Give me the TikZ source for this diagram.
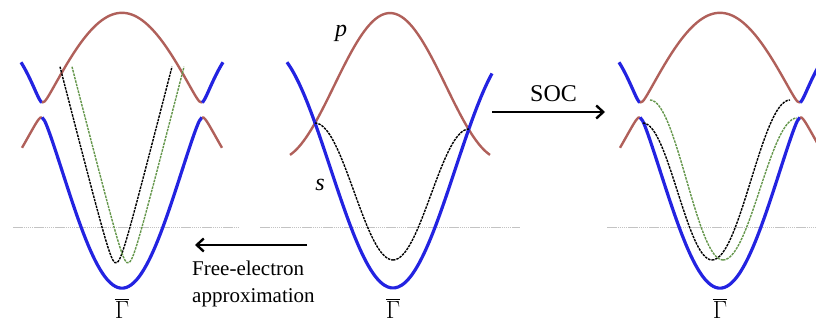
\documentclass[tikz,border=0pt]{standalone}
\usepackage{fontspec}
\setmainfont{Liberation Serif}
\usetikzlibrary{arrows.meta}
\definecolor{bandblue}{RGB}{35,35,225}
\definecolor{bandred}{RGB}{176,96,90}
\definecolor{dgreen}{RGB}{100,150,75}
\definecolor{fermi}{RGB}{195,195,195}
\tikzset{
  blueband/.style={bandblue, line width=3.2pt},
  redband/.style={bandred, line width=2.4pt},
  kdash/.style={black, line width=1.4pt, dash pattern=on 2.5pt off 1pt},
  gdash/.style={dgreen, line width=1.4pt, dash pattern=on 2.5pt off 1pt},
  fermiline/.style={fermi, line width=0.9pt, dash pattern=on 1.5pt off 0.6pt},
  bigarrow/.style={line width=2.6pt, -{Straight Barb[length=7pt,width=13pt,line width=2.4pt]}},
  lbl/.style={font=\fontsize{21}{24}\selectfont, inner sep=0pt},
  gam/.style={font=\fontsize{27}{30}\selectfont, inner sep=0pt, anchor=base},
  declare function={
    rs(\d)=110-97*cos(1.125*\d);
    bs(\d)=166.8+121.2*cos(1.475*\d);
    hy(\d)=10*sqrt(((rs(\d)-bs(\d))/20)^2+0.5625);
    up(\d)=(rs(\d)+bs(\d))/2-hy(\d);
    lo(\d)=(rs(\d)+bs(\d))/2+hy(\d);
    vfe(\d)=3.9*(sqrt(\d*\d+36)-6);
  }
}
\begin{document}
\begin{tikzpicture}[x=1pt,y=-1pt]
\useasboundingbox (0,0) rectangle (816,323);
\clip (0,0) rectangle (816,323);

% Fermi lines
\draw[fermiline] (13,227) -- (238,227);
\draw[fermiline] (260,227) -- (520,227);
\draw[fermiline] (607,227) -- (816,227);

% ---------- Left panel (centre 121) ----------
\begin{scope}[shift={(122,0)}]
  \draw[blueband] plot[domain=-101:-80,samples=15,smooth] (\x,{up(\x)});
  \draw[redband]  plot[domain=-80:80,samples=60,smooth] (\x,{up(\x)});
  \draw[blueband] plot[domain=80:101,samples=15,smooth] (\x,{up(\x)});
  \draw[redband]  plot[domain=-100:-80,samples=15,smooth] (\x,{lo(\x)});
  \draw[blueband] plot[domain=-80:80,samples=60,smooth] (\x,{lo(\x)});
  \draw[redband]  plot[domain=80:100,samples=15,smooth] (\x,{lo(\x)});
\end{scope}
\draw[kdash] plot[domain=-56:56,samples=50,smooth] ({116+\x},{263-vfe(\x)});
\draw[gdash] plot[domain=-56:56,samples=50,smooth] ({128+\x},{263-vfe(\x)});

% ---------- Middle panel ----------
\draw[redband]  plot[domain=290:490,samples=60,smooth] (\x,{86-73*cos(1.607*(\x-390))});
\draw[blueband] plot[domain=287:492,samples=60,smooth] (\x,{168.4+119.6*cos(1.44*(\x-393))});
\draw[kdash] plot[domain=315:393,samples=30,smooth] (\x,{191.5+68.5*cos(180*(\x-393)/78)});
\draw[kdash] plot[domain=393:469,samples=30,smooth] (\x,{194.5+65.5*cos(180*(\x-393)/76)});

% ---------- Right panel (centre 720) ----------
\begin{scope}[shift={(720,0)}]
  \draw[blueband] plot[domain=-101:-80,samples=15,smooth] (\x,{up(\x)});
  \draw[redband]  plot[domain=-80:80,samples=60,smooth] (\x,{up(\x)});
  \draw[blueband] plot[domain=80:101,samples=15,smooth] (\x,{up(\x)});
  \draw[redband]  plot[domain=-100:-80,samples=15,smooth] (\x,{lo(\x)});
  \draw[blueband] plot[domain=-80:80,samples=60,smooth] (\x,{lo(\x)});
  \draw[redband]  plot[domain=80:100,samples=15,smooth] (\x,{lo(\x)});
\end{scope}
\draw[kdash] plot[domain=643:712,samples=30,smooth] (\x,{191.5+68.5*cos(180*(\x-712)/69)});
\draw[kdash] plot[domain=712:790,samples=30,smooth] (\x,{180+80*cos(180*(\x-712)/78)});
\draw[gdash] plot[domain=650:723,samples=30,smooth] (\x,{180+80*cos(180*(\x-723)/73)});
\draw[gdash] plot[domain=723:797,samples=30,smooth] (\x,{189+71*cos(180*(\x-723)/74)});

% ---------- Labels ----------
\node[lbl, font=\fontsize{24}{26}\selectfont\itshape] (p) at (341,33) {p};
\node[lbl, font=\fontsize{24}{26}\selectfont\itshape] (s) at (320,185) {s};
\node[gam] (g1) at (122,318) {$\overline{\Gamma}$};
\node[gam] (g2) at (393,318) {$\overline{\Gamma}$};
\node[gam] (g3) at (720,318) {$\overline{\Gamma}$};

% SOC arrow
\coordinate (socA) at (492,112);
\coordinate (socB) at (605,112);
\draw[bigarrow] (socA) -- (socB);
\node[lbl, font=\fontsize{24}{26}\selectfont, anchor=base west] (soc) at (530,102) {SOC};

% Free-electron arrow
\coordinate (feA) at (307,245);
\coordinate (feB) at (195,245);
\draw[bigarrow] (feA) -- (feB);
\node[lbl, anchor=base west] (fe1) at (192,275) {Free-electron};
\node[lbl, anchor=base west] (fe2) at (192,302) {approximation};
\end{tikzpicture}
\end{document}
